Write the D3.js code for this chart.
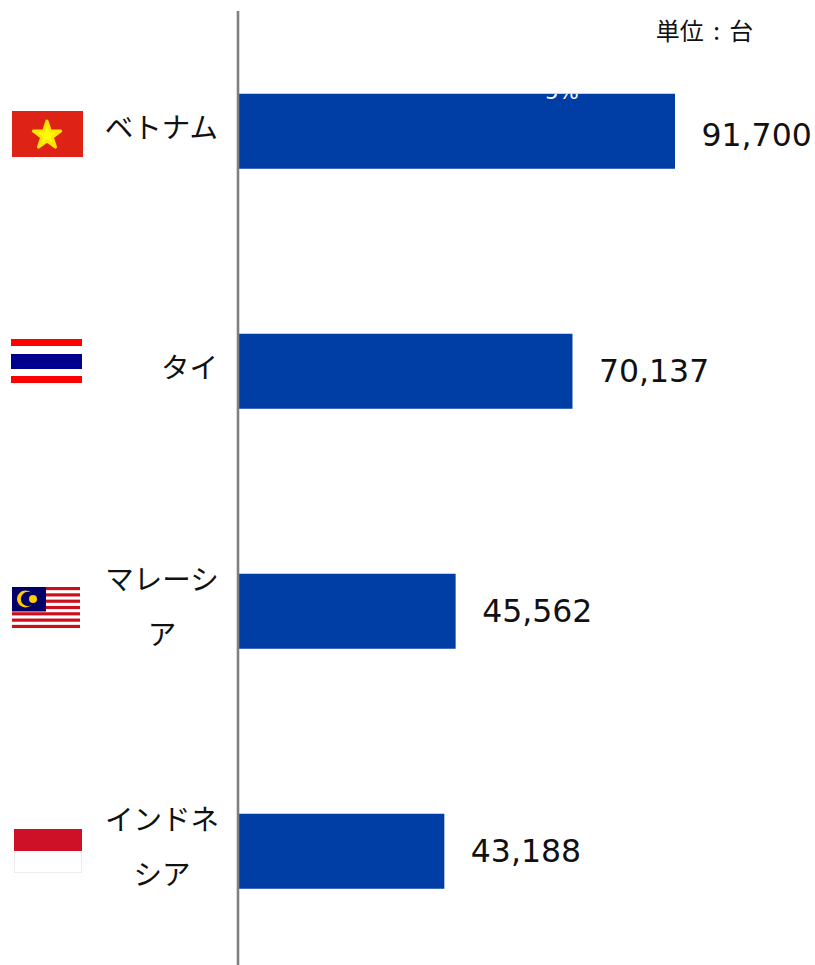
<!DOCTYPE html>
<html lang="ja"><head><meta charset="utf-8">
<script src="https://cdnjs.cloudflare.com/ajax/libs/d3/7.8.5/d3.min.js"></script>
<style>html,body{margin:0;padding:0;background:#fff;overflow:hidden}svg{display:block}
text{font-family:"Noto Sans CJK JP","DejaVu Sans",sans-serif;fill:#111}
.num{font-family:"DejaVu Sans",sans-serif;font-size:31.5px}</style>
</head><body><script>
const categories = ["ベトナム","タイ","マレーシア","インドネシア"];
const labelLines = [["ベトナム"],["タイ"],["マレーシ","ア"],["インドネ","シア"]];
const values = [91700,70137,45562,43188];
const flagKeys = ["vn","th","my","id"];
const unitLabel = "単位 : 台";
const clippedLabel = "5%";

const W=815,H=965;
const svg=d3.select("body").append("svg").attr("width",W).attr("height",H);
const x=d3.scaleLinear().domain([0,91700]).range([239,675]);
const y=d3.scaleBand().domain(categories).range([11.25,971.25]).paddingInner(0.6875).paddingOuter(0.34375);
const fmt=d3.format(",");

const defs=svg.append("defs");
defs.append("clipPath").attr("id","barclip").append("rect")
  .attr("x",x(0)).attr("y",y(categories[0])).attr("width",x(values[0])-x(0)).attr("height",y.bandwidth());
const soft=defs.append("filter").attr("id","soft").attr("filterUnits","objectBoundingBox")
  .attr("x","-5%").attr("y","-5%").attr("width","110%").attr("height","110%");
soft.append("feGaussianBlur").attr("stdDeviation",0.5);

svg.selectAll("rect.bar").data(values).join("rect").attr("class","bar")
  .attr("x",x(0)).attr("y",(d,i)=>y(categories[i])).attr("width",d=>x(d)-x(0)).attr("height",y.bandwidth())
  .attr("fill","#003da5");

svg.append("line").attr("x1",238).attr("x2",238).attr("y1",11).attr("y2",H)
  .attr("stroke","#808080").attr("stroke-width",2.6);

svg.append("text").attr("x",562).attr("y",y(categories[0])+5).attr("text-anchor","middle")
  .attr("clip-path","url(#barclip)").style("font-family","DejaVu Sans").style("font-size","21px").style("fill","#fff").text(clippedLabel);

svg.selectAll("text.num").data(values).join("text").attr("class","num")
  .attr("x",d=>x(d)+26.5).attr("y",(d,i)=>y(categories[i])+y.bandwidth()/2+(i===0?15:11)).text(d=>fmt(d));

labelLines.forEach((lines,i)=>{
  const c=y(categories[i])+y.bandwidth()/2;
  if(lines.length===1){
    svg.append("text").attr("x",218).attr("y",c+6.5).attr("text-anchor","end").style("font-size","28.5px").text(lines[0]);
  } else {
    lines.forEach((t,j)=>svg.append("text").attr("x",162).attr("y",c-21+j*55).attr("text-anchor","middle").style("font-size","28.5px").text(t));
  }
});

svg.append("text").attr("x",704.5).attr("y",39.5).attr("text-anchor","middle").style("font-size","24px").style("word-spacing","4px").text(unitLabel);

function rect(g,a,b,w,h,f){g.append("rect").attr("x",a).attr("y",b).attr("width",w).attr("height",h).attr("fill",f);}
const flags={
 vn(g){rect(g,12,111,71,46,"#de2316");
   const s=d3.symbol().type(d3.symbolStar).size(230)();
   g.append("path").attr("d",s).attr("transform","translate(47,135.5)").attr("fill","#ffff00").attr("stroke","#ffe600").attr("stroke-width",3.2).attr("stroke-linejoin","round");},
 th(g){rect(g,11,339,71,44,"#fe0000");rect(g,11,346,71,30,"#fff");rect(g,11,354,71,15,"#00008f");},
 my(g){rect(g,12,587,68,41,"#fff");
   for(let i=0;i<7;i++)rect(g,12,587+i*6.31,68,3.15,"#cc0a1e");
   rect(g,12,587,34,24.5,"#010066");
   g.append("circle").attr("cx",25.5).attr("cy",599).attr("r",8.5).attr("fill","#fc0");
   g.append("circle").attr("cx",28).attr("cy",599).attr("r",7.2).attr("fill","#010066");
   g.append("circle").attr("cx",33).attr("cy",599).attr("r",4).attr("fill","#fc0");},
 id(g){rect(g,14,829,68,44,"#ececec");rect(g,15,851,66,21,"#fff");rect(g,14,829,68,22,"#ce1126");}
};
flagKeys.forEach(k=>flags[k](svg.append("g").attr("filter",k==="th"||k==="my"?"url(#soft)":null)));
</script></body></html>
